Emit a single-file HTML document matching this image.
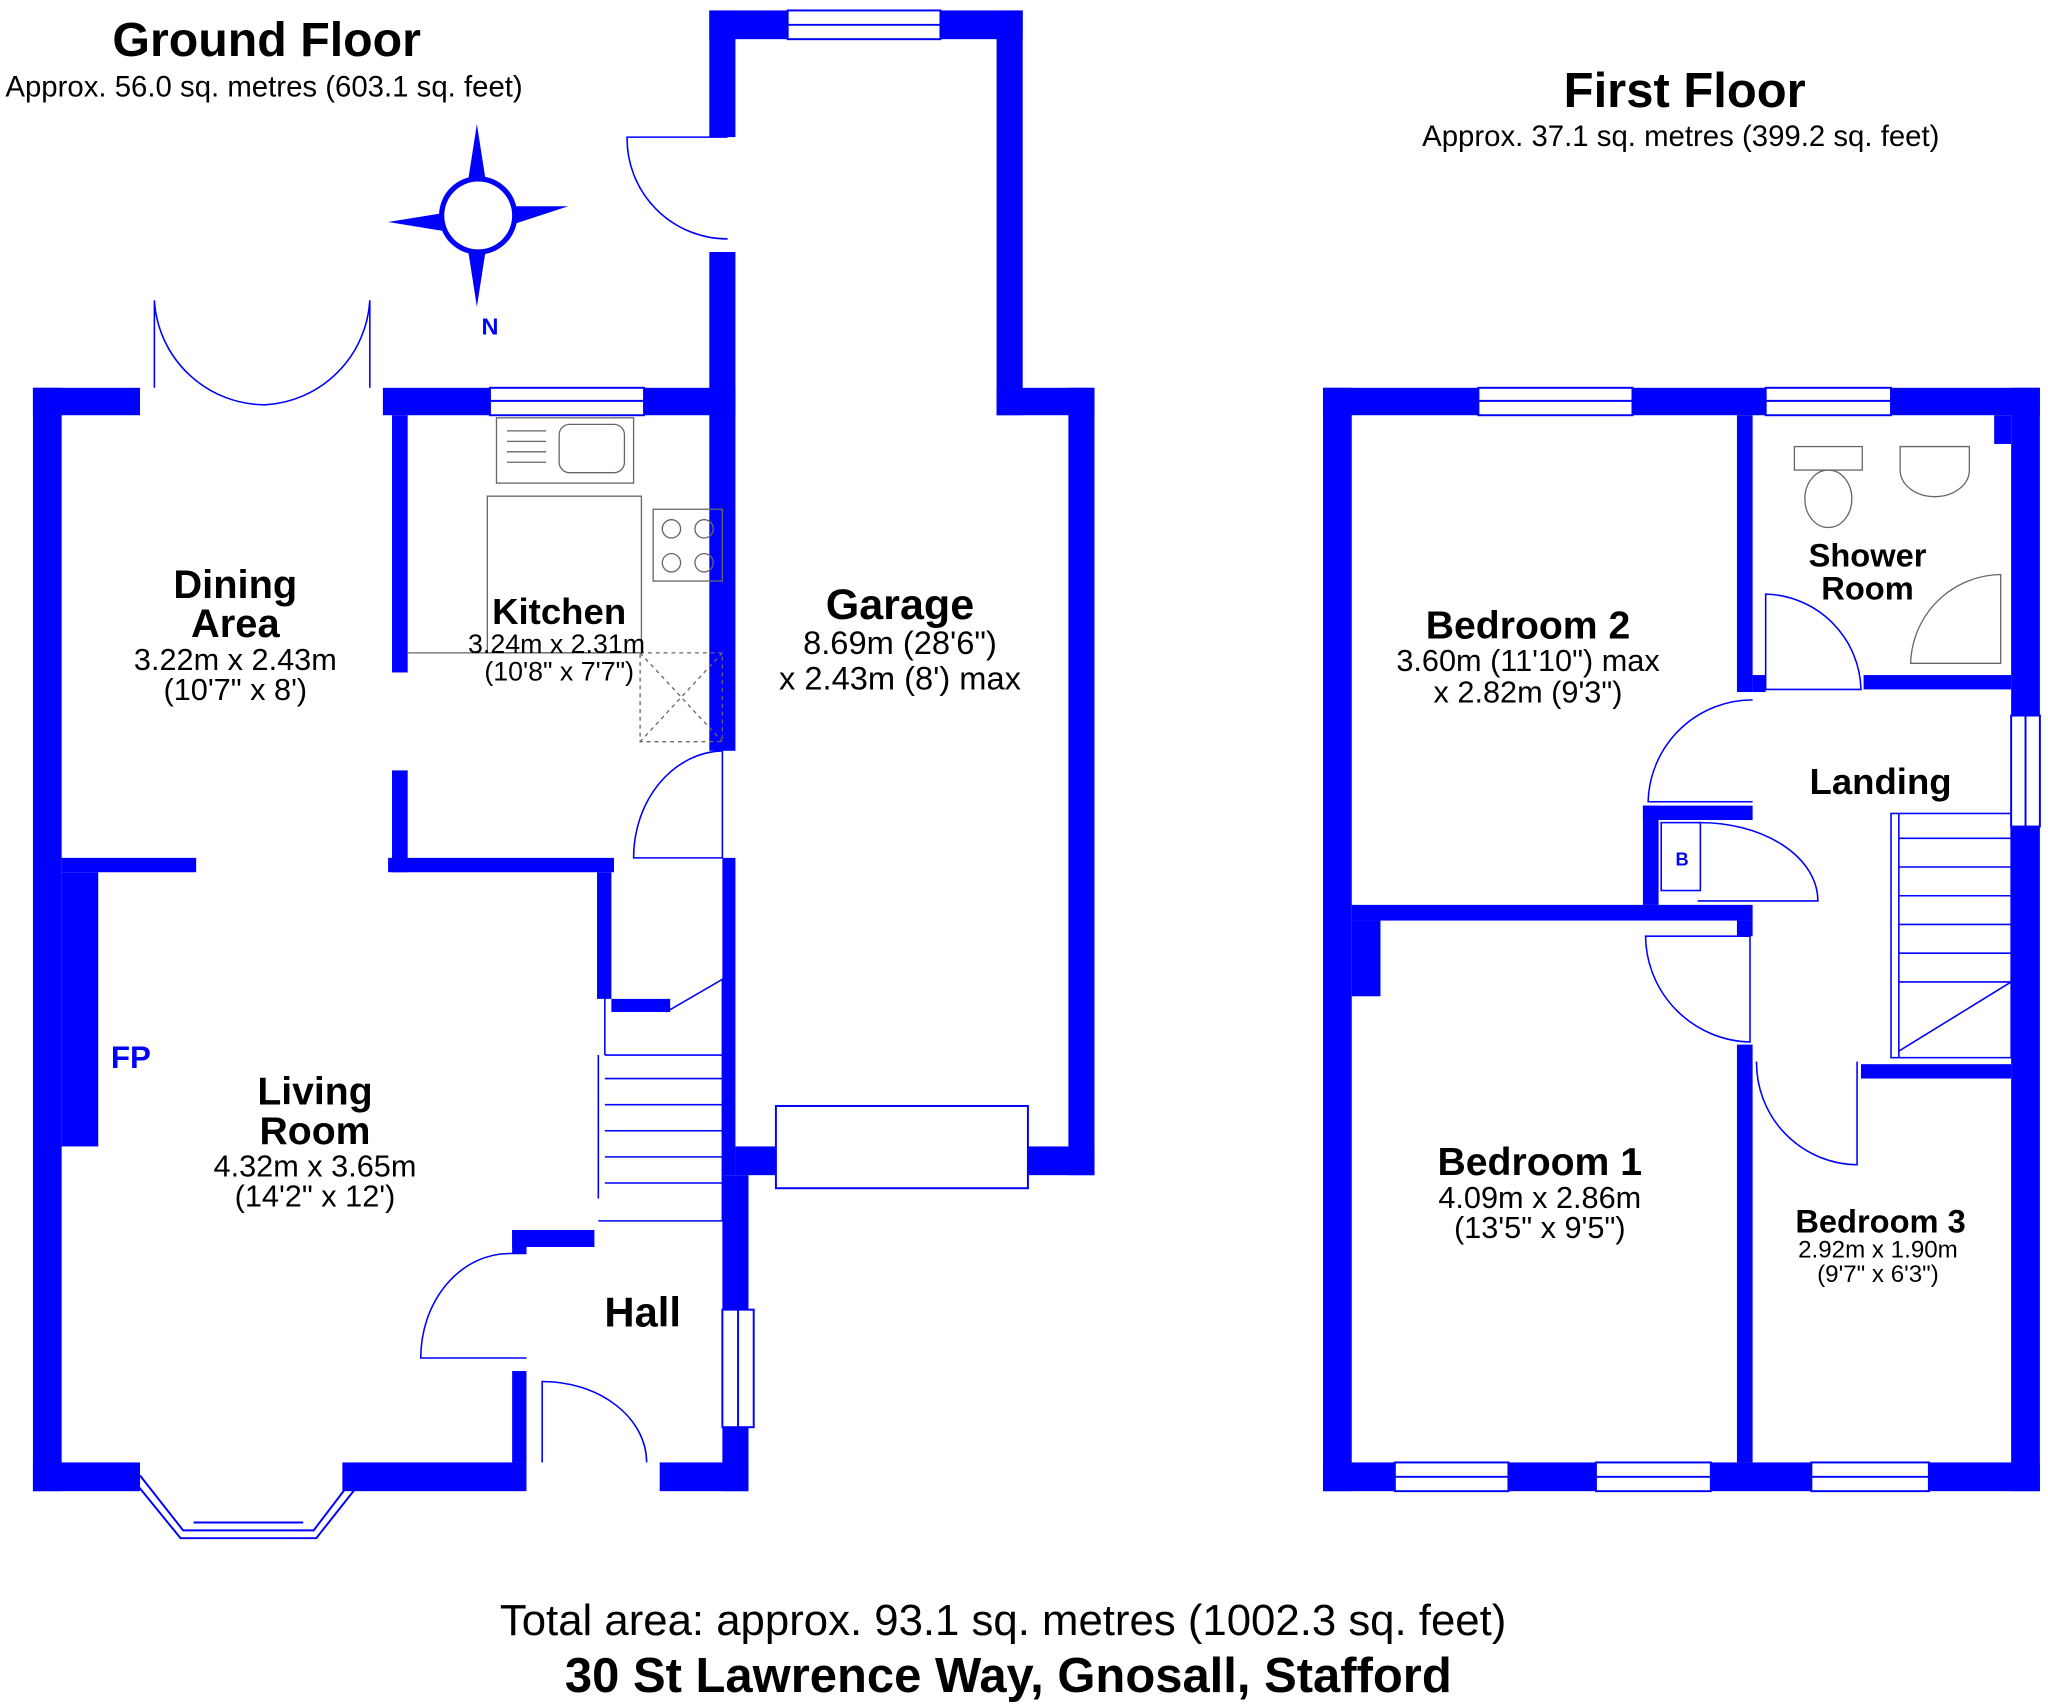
<!DOCTYPE html>
<html><head><meta charset="utf-8"><style>
html,body{margin:0;padding:0;background:#fff;}
svg{display:block;}
text{font-family:"Liberation Sans",Arial,sans-serif;fill:#000;}
</style></head><body>
<svg width="2048" height="1704" viewBox="0 0 1568 1305" xmlns="http://www.w3.org/2000/svg">
<rect width="1568" height="1305" fill="#fff"/>
<g fill="#0000ff">
<rect x="25" y="297" width="22" height="845"/>
<rect x="25" y="297" width="82" height="21"/>
<rect x="293" y="297" width="82" height="21"/>
<rect x="493" y="297" width="70" height="21"/>
<rect x="300" y="318" width="12" height="197"/>
<rect x="300" y="590" width="12" height="78"/>
<rect x="47" y="657" width="103" height="11"/>
<rect x="297" y="657" width="173" height="11"/>
<rect x="47" y="668" width="28" height="210"/>
<rect x="25" y="1120" width="82" height="22"/>
<rect x="262" y="1120" width="141" height="22"/>
<rect x="505" y="1120" width="68" height="22"/>
<rect x="553" y="900" width="20" height="103"/>
<rect x="553" y="1093" width="20" height="49"/>
<rect x="543" y="8" width="20" height="97"/>
<rect x="543" y="193" width="20" height="382"/>
<rect x="553" y="657" width="10" height="243"/>
<rect x="543" y="8" width="60" height="22"/>
<rect x="720" y="8" width="63" height="22"/>
<rect x="763" y="8" width="20" height="310"/>
<rect x="763" y="297" width="75" height="21"/>
<rect x="818" y="297" width="20" height="603"/>
<rect x="787" y="878" width="51" height="22"/>
<rect x="563" y="878" width="31" height="22"/>
<rect x="457" y="668" width="11" height="97"/>
<rect x="468" y="765" width="45" height="10"/>
<rect x="392" y="942" width="63" height="13"/>
<rect x="392" y="942" width="11" height="18"/>
<rect x="392" y="1050" width="11" height="70"/>
<rect x="1013" y="297" width="22" height="845"/>
<rect x="1013" y="297" width="119" height="21"/>
<rect x="1250" y="297" width="102" height="21"/>
<rect x="1448" y="297" width="114" height="21"/>
<rect x="1540" y="297" width="22" height="251"/>
<rect x="1540" y="633" width="22" height="509"/>
<rect x="1527" y="318" width="13" height="22"/>
<rect x="1013" y="1120" width="55" height="22"/>
<rect x="1155" y="1120" width="67" height="22"/>
<rect x="1310" y="1120" width="77" height="22"/>
<rect x="1477" y="1120" width="85" height="22"/>
<rect x="1330" y="318" width="12" height="212"/>
<rect x="1427" y="517" width="113" height="11"/>
<rect x="1035" y="693" width="307" height="12"/>
<rect x="1035" y="705" width="22" height="58"/>
<rect x="1330" y="705" width="12" height="12"/>
<rect x="1330" y="800" width="12" height="320"/>
<rect x="1425" y="815" width="115" height="11"/>
<rect x="1258" y="617" width="12" height="76"/>
<rect x="1258" y="617" width="84" height="11"/>
<rect x="1342" y="517" width="10" height="13"/>
</g>
<g fill="none" stroke="#0000ff" stroke-width="1.5">
<rect x="603" y="8" width="117" height="22"/><line x1="603" y1="19" x2="720" y2="19"/>
<rect x="375" y="297" width="118" height="21"/><line x1="375" y1="307" x2="493" y2="307"/>
<rect x="553" y="1003" width="24" height="90"/><line x1="565" y1="1003" x2="565" y2="1093"/>
<rect x="1132" y="297" width="118" height="21"/><line x1="1132" y1="307" x2="1250" y2="307"/>
<rect x="1352" y="297" width="96" height="21"/><line x1="1352" y1="307" x2="1448" y2="307"/>
<rect x="1540" y="548" width="22" height="85"/><line x1="1551" y1="548" x2="1551" y2="633"/>
<rect x="1068" y="1120" width="87" height="22"/><line x1="1068" y1="1131" x2="1155" y2="1131"/>
<rect x="1222" y="1120" width="88" height="22"/><line x1="1222" y1="1131" x2="1310" y2="1131"/>
<rect x="1387" y="1120" width="90" height="22"/><line x1="1387" y1="1131" x2="1477" y2="1131"/>
<rect x="594" y="847" width="193" height="63" fill="#fff"/>
<polyline points="107,1130 140,1172 240,1172 272,1130"/>
<polyline points="103,1135 138,1178 242,1178 276,1135"/>
<line x1="148" y1="1166" x2="232" y2="1166"/>
</g>
<g fill="none" stroke="#0000ff" stroke-width="1.2">
<path d="M557 105 L480 105 A77 77 0 0 0 557 183"/>
<path d="M118 297 L118 230 A85 85 0 0 0 203 310 A85 85 0 0 0 283 230 L283 297"/>
<path d="M553 575 L553 657 L485 657 A70 82 0 0 1 553 575"/>
<path d="M403 960 L390 960 A68 80 0 0 0 322 1040 L403 1040"/>
<path d="M415 1120 L415 1058 A80 62 0 0 1 495 1120"/>
<path d="M1342 536 A80 80 0 0 0 1262 614 L1342 614"/>
<path d="M1352 455 A75 75 0 0 1 1425 528 L1352 528Z"/>
<path d="M1300 630 A90 60 0 0 1 1392 690 L1300 690"/>
<path d="M1260 717 A82 82 0 0 0 1340 798 L1340 717Z"/>
<path d="M1345 813 A78 78 0 0 0 1422 892 L1422 813"/>
<path d="M458 808 L458 918 M463 808 L553 808 L553 935 L458 935"/>
<path d="M463 808 L463 765 M510 775 L553 750 L553 808"/>
<line x1="463" y1="826" x2="553" y2="826"/><line x1="463" y1="846" x2="553" y2="846"/>
<line x1="463" y1="866" x2="553" y2="866"/><line x1="463" y1="886" x2="553" y2="886"/>
<line x1="463" y1="906" x2="553" y2="906"/>
<rect x="1448" y="623" width="92" height="187"/>
<line x1="1454" y1="623" x2="1454" y2="810"/>
<line x1="1454" y1="642" x2="1540" y2="642"/><line x1="1454" y1="664" x2="1540" y2="664"/>
<line x1="1454" y1="686" x2="1540" y2="686"/><line x1="1454" y1="708" x2="1540" y2="708"/>
<line x1="1454" y1="730" x2="1540" y2="730"/><line x1="1454" y1="752" x2="1540" y2="752"/>
<line x1="1454" y1="805" x2="1540" y2="752"/>
<rect x="1272" y="630" width="30" height="52"/>
</g>
<g fill="none" stroke="#666" stroke-width="1">
<rect x="380" y="320" width="105" height="50"/>
<rect x="428" y="325" width="50" height="37" rx="8"/>
<line x1="388" y1="330" x2="418" y2="330"/><line x1="388" y1="338" x2="418" y2="338"/><line x1="388" y1="346" x2="418" y2="346"/><line x1="388" y1="354" x2="418" y2="354"/>
<rect x="373" y="380" width="118" height="120"/>
<rect x="500" y="390" width="53" height="55"/>
<circle cx="514" cy="405" r="7"/><circle cx="539" cy="405" r="7"/><circle cx="514" cy="431" r="7"/><circle cx="539" cy="431" r="7"/>
<rect x="490" y="500" width="63" height="68" stroke-dasharray="3,3"/>
<path d="M490 500 L553 568 M553 500 L490 568" stroke-dasharray="3,3"/>
<line x1="312" y1="500" x2="490" y2="500"/>
<rect x="1374" y="342" width="52" height="18"/>
<ellipse cx="1400" cy="382" rx="18" ry="22"/>
<path d="M1455 342 L1508 342 L1508 360 A26 20 0 0 1 1455 360Z"/>
<path d="M1463 508 L1532 508 L1532 440 A70 70 0 0 0 1463 508Z"/>
</g>
<g fill="#0000ff">
<polygon points="365,95 372,140 358,140"/>
<polygon points="365,235 372,190 358,190"/>
<polygon points="297,170 340,163 340,177"/>
<polygon points="435,158 392,158 392,172"/>
<circle cx="366" cy="165" r="30"/>
</g>
<circle cx="366" cy="165" r="26" fill="#fff"/>
<text x="375" y="256" font-size="18" font-weight="bold" text-anchor="middle" style="fill:#0000ff">N</text>
<text x="100" y="818" font-size="24" font-weight="bold" text-anchor="middle" style="fill:#0000ff">FP</text>
<text x="1288" y="663" font-size="14" font-weight="bold" text-anchor="middle" style="fill:#0000ff">B</text>
<g text-anchor="middle">
<text x="204" y="43" font-size="37" font-weight="bold">Ground Floor</text>
<text x="202" y="74" font-size="22.5">Approx. 56.0 sq. metres (603.1 sq. feet)</text>
<text x="1290" y="82" font-size="37.5" font-weight="bold">First Floor</text>
<text x="1287" y="112" font-size="22.5">Approx. 37.1 sq. metres (399.2 sq. feet)</text>
<text x="768" y="1252" font-size="33.5">Total area: approx. 93.1 sq. metres (1002.3 sq. feet)</text>
<text x="772" y="1296" font-size="37.5" font-weight="bold">30 St Lawrence Way, Gnosall, Stafford</text>
<text x="180" y="458" font-size="30.5" font-weight="bold">Dining</text>
<text x="180" y="488" font-size="30.5" font-weight="bold">Area</text>
<text x="180" y="513" font-size="23.5">3.22m x 2.43m</text>
<text x="180" y="536" font-size="23.5">(10'7" x 8')</text>
<text x="428" y="478" font-size="28" font-weight="bold">Kitchen</text>
<text x="426" y="500" font-size="20.5">3.24m x 2.31m</text>
<text x="428" y="521" font-size="20.5">(10'8" x 7'7")</text>
<text x="689" y="474" font-size="33" font-weight="bold">Garage</text>
<text x="689" y="501" font-size="25">8.69m (28'6")</text>
<text x="689" y="528" font-size="25">x 2.43m (8') max</text>
<text x="241" y="846" font-size="30" font-weight="bold">Living</text>
<text x="241" y="876" font-size="30" font-weight="bold">Room</text>
<text x="241" y="901" font-size="23.5">4.32m x 3.65m</text>
<text x="241" y="924" font-size="23.5">(14'2" x 12')</text>
<text x="492" y="1016" font-size="32" font-weight="bold">Hall</text>
<text x="1170" y="489" font-size="30" font-weight="bold">Bedroom 2</text>
<text x="1170" y="514" font-size="23.5">3.60m (11'10") max</text>
<text x="1170" y="538" font-size="23.5">x 2.82m (9'3")</text>
<text x="1430" y="434" font-size="25" font-weight="bold">Shower</text>
<text x="1430" y="459" font-size="25" font-weight="bold">Room</text>
<text x="1440" y="608" font-size="28" font-weight="bold">Landing</text>
<text x="1179" y="900" font-size="30" font-weight="bold">Bedroom 1</text>
<text x="1179" y="925" font-size="23.5">4.09m x 2.86m</text>
<text x="1179" y="948" font-size="23.5">(13'5" x 9'5")</text>
<text x="1440" y="944" font-size="25" font-weight="bold">Bedroom 3</text>
<text x="1438" y="963" font-size="18.5">2.92m x 1.90m</text>
<text x="1438" y="982" font-size="18.5">(9'7" x 6'3")</text>
</g>
</svg>
</body></html>
